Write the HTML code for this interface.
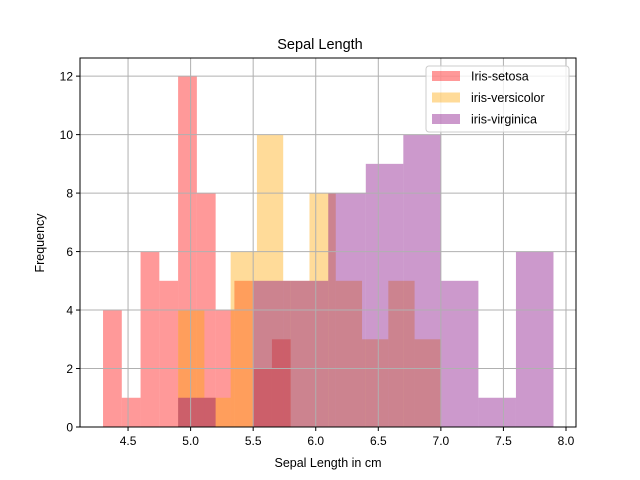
<!DOCTYPE html>
<html><head><meta charset="utf-8"><style>
body{margin:0;background:#fff}
svg{display:block;font-family:"Liberation Sans","DejaVu Sans",sans-serif}
</style></head><body>
<svg id="chart" width="640" height="480" viewBox="0 0 640 480">
<rect x="0" y="0" width="640" height="480" fill="#fff"/>
<g id="bars"></g>
<g id="grid"></g>
<rect x="80" y="58" width="496" height="369" fill="none" stroke="#000" stroke-width="1"/>
<g id="ticks"></g>
<text x="320" y="49" text-anchor="middle" font-size="14.5">Sepal Length</text>
<text x="328" y="467" text-anchor="middle" font-size="12.5">Sepal Length in cm</text>
<text x="44" y="243" text-anchor="middle" font-size="12.5" transform="rotate(-90 44 243)">Frequency</text>
<g id="legend">
<rect x="426" y="66" width="143" height="66" rx="3" fill="#fff" fill-opacity="0.8" stroke="#ccc"/>
</g>
</svg>
<script>
const seriesNames=["Iris-setosa","iris-versicolor","iris-virginica"];
const seriesColors=["rgb(255,0,0)","rgb(255,165,0)","rgb(128,0,128)"];
const binStarts=[4.3,4.9,4.9];
const binEnds=[5.8,7.0,7.9];
const setosaCounts=[4,1,6,5,12,8,4,5,2,3];
const versicolorCounts=[4,1,6,10,5,8,5,3,5,3];
const virginicaCounts=[1,0,5,5,8,9,10,5,1,6];
const xTicks=[4.5,5.0,5.5,6.0,6.5,7.0,7.5,8.0];
const yTicks=[0,2,4,6,8,10,12];
const counts=[setosaCounts,versicolorCounts,virginicaCounts];
const NS="http://www.w3.org/2000/svg";
const X0=80,X1=576,Y0=427,Y1=58,xmin=4.116,xmax=8.08,ymin=0,ymax=12.62;
const sx=v=>X0+(v-xmin)/(xmax-xmin)*(X1-X0);
const sy=v=>Y0-(v-ymin)/(ymax-ymin)*(Y0-Y1);
function mk(tag,at,parent){const e=document.createElementNS(NS,tag);for(const k in at)e.setAttribute(k,at[k]);parent.appendChild(e);return e;}
const grid=document.getElementById('grid'),ticks=document.getElementById('ticks'),bars=document.getElementById('bars');
xTicks.forEach(t=>{
 const g=mk('line',{x1:sx(t),x2:sx(t),y1:Y1,y2:Y0,stroke:'#b0b0b0','stroke-width':1},grid);
 
 
 const l=mk('line',{x1:sx(t),x2:sx(t),y1:Y0,y2:Y0+4,stroke:'#000'},ticks);
 
 
 const tx=mk('text',{x:sx(t),y:Y0+18,'text-anchor':'middle','font-size':12},ticks);
 tx.textContent=t.toFixed(1);
 
 
});
yTicks.forEach(t=>{
 const g=mk('line',{x1:X0,x2:X1,y1:sy(t),y2:sy(t),stroke:'#b0b0b0','stroke-width':1},grid);
 
 
 const l=mk('line',{x1:X0-4,x2:X0,y1:sy(t),y2:sy(t),stroke:'#000'},ticks);
 
 
 const tx=mk('text',{x:X0-7,y:sy(t)+4.5,'text-anchor':'end','font-size':12},ticks);
 tx.textContent=t;
 
 
});
counts.forEach((arr,s)=>{
 const w=(binEnds[s]-binStarts[s])/arr.length;
 arr.forEach((c,i)=>{
  if(c<=0)return;
  const a=binStarts[s]+i*w;
  const r=mk('rect',{x:sx(a),y:sy(c),width:sx(a+w)-sx(a),height:sy(0)-sy(c),fill:seriesColors[s],'fill-opacity':0.4},bars);
  
  
 });
});
const lg=document.getElementById('legend');
seriesNames.forEach((n,i)=>{
 const y=76+i*21.5;
 const p=mk('rect',{x:432,y:y-5,width:28,height:10,fill:seriesColors[i],'fill-opacity':0.4},lg);
 
 
 const t=mk('text',{x:471,y:y+4.5,'font-size':12.5},lg);
 t.textContent=n;
 
 
});
</script>
</body></html>
